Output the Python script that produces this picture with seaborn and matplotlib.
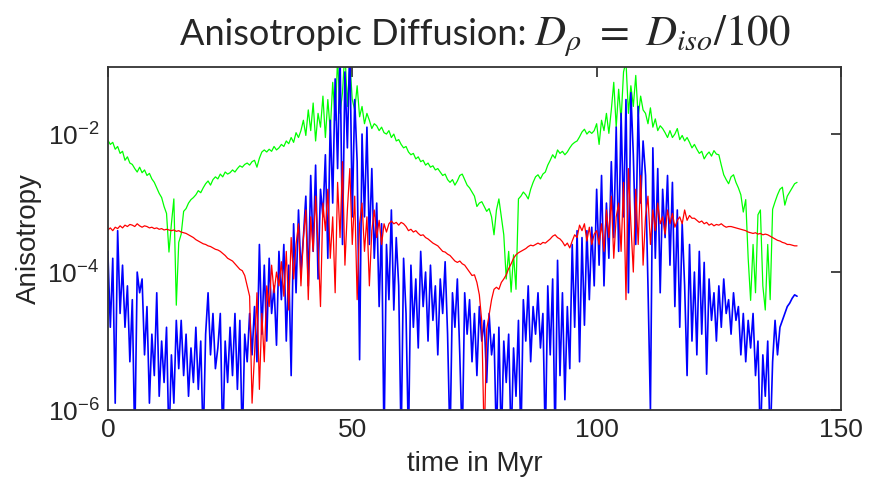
import numpy as np
import pandas as pd
import seaborn as sns
import matplotlib
matplotlib.use("Agg")
import matplotlib.pyplot as plt
from matplotlib.ticker import NullLocator, FuncFormatter

# time axis, every 0.5 Myr
time = np.arange(0, 141.5, 0.5)

# log10 of anisotropy
green_log = [
    -2.09, -2.15, -2.12, -2.22, -2.18, -2.28, -2.25, -2.38, -2.33, -2.42,
    -2.44, -2.50, -2.55, -2.48, -2.56, -2.52, -2.60, -2.57, -2.65, -2.70,
    -2.78, -2.86, -2.92, -3.05, -3.15, -3.71, -3.30, -2.94, -4.48, -3.57,
    -3.45, -3.12, -3.08, -3.00, -2.95, -2.92, -2.88, -2.82, -2.85, -2.78,
    -2.72, -2.68, -2.74, -2.66, -2.62, -2.65, -2.58, -2.62, -2.55, -2.58,
    -2.56, -2.52, -2.55, -2.50, -2.46, -2.48, -2.44, -2.42, -2.45, -2.40,
    -2.38, -2.48, -2.35, -2.26, -2.23, -2.26, -2.22, -2.25, -2.18, -2.23,
    -2.20, -2.15, -2.18, -2.10, -2.14, -2.05, -2.12, -1.98, -2.05, -1.95,
    -1.80, -2.02, -1.65, -1.95, -1.55, -2.10, -1.70, -1.90, -1.45, -2.05,
    -1.50, -1.95, -1.25, -1.80, -0.90, -1.70, -1.40, -0.80, -1.60, -0.95,
    -1.50, -1.65, -1.30, -1.75, -1.60, -1.85, -1.70, -1.80, -1.92, -1.85,
    -1.88, -1.95, -1.90, -1.98, -2.00, -1.95, -2.05, -2.00, -2.10, -2.08,
    -2.15, -2.20, -2.18, -2.26, -2.30, -2.28, -2.36, -2.33, -2.40, -2.38,
    -2.45, -2.42, -2.48, -2.46, -2.52, -2.50, -2.55, -2.60, -2.58, -2.66,
    -2.70, -2.66, -2.74, -2.68, -2.60, -2.58, -2.66, -2.74, -2.78, -2.84,
    -2.90, -3.05, -3.00, -2.98, -3.05, -3.12, -3.08, -3.20, -3.46, -3.10,
    -2.94, -3.20, -3.46, -4.10, -3.70, -4.29, -3.75, -4.25, -2.94, -2.90,
    -2.84, -2.88, -2.94, -2.80, -2.70, -2.62, -2.59, -2.65, -2.58, -2.55,
    -2.45, -2.38, -2.30, -2.35, -2.23, -2.28, -2.25, -2.30, -2.26, -2.20,
    -2.15, -2.12, -2.10, -2.04, -1.97, -1.93, -2.00, -1.96, -1.99, -1.95,
    -1.85, -2.15, -1.80, -1.95, -1.70, -1.99, -1.65, -1.25, -1.90, -1.35,
    -1.80, -1.10, -0.95, -1.70, -1.30, -1.60, -1.15, -1.75, -1.45, -1.65,
    -1.70, -1.85, -1.62, -1.90, -1.78, -1.95, -1.88, -1.92, -1.98, -2.05,
    -1.95, -2.05, -2.00, -1.92, -2.08, -2.02, -2.10, -2.05, -2.12, -2.20,
    -2.15, -2.22, -2.28, -2.25, -2.36, -2.30, -2.26, -2.32, -2.24, -2.29,
    -2.30, -2.45, -2.59, -2.66, -2.72, -2.62, -2.59, -2.70, -2.78, -2.88,
    -3.13, -2.95, -3.80, -4.41, -3.60, -4.30, -3.17, -3.10, -4.20, -4.55,
    -3.60, -4.40, -3.09, -2.98, -2.88, -2.80, -2.77, -3.03, -2.90, -2.84,
    -2.78, -2.72, -2.70,
]

red_log = [
    -3.39, -3.36, -3.40, -3.35, -3.37, -3.33, -3.36, -3.32, -3.34, -3.31,
    -3.32, -3.34, -3.30, -3.33, -3.35, -3.33, -3.34, -3.36, -3.35, -3.37,
    -3.36, -3.38, -3.37, -3.39, -3.38, -3.39, -3.40, -3.39, -3.41, -3.40,
    -3.42, -3.43, -3.44, -3.46, -3.48, -3.50, -3.53, -3.55, -3.57, -3.59,
    -3.60, -3.62, -3.63, -3.65, -3.67, -3.68, -3.70, -3.73, -3.76, -3.80,
    -3.82, -3.84, -3.88, -3.92, -3.96, -3.98, -4.05, -4.20, -4.35, -5.90,
    -5.20, -4.30, -5.70, -4.60, -5.30, -4.20, -4.50, -3.90, -4.30, -4.00,
    -4.20, -3.85, -4.35, -3.70, -4.55, -3.50, -4.10, -3.60, -3.30, -4.20,
    -3.50, -3.10, -4.40, -3.20, -3.70, -2.90, -3.60, -4.50, -3.00, -3.40,
    -2.80, -3.80, -3.20, -4.30, -2.70, -3.50, -2.40, -3.90, -3.10, -2.50,
    -3.60, -2.90, -4.40, -3.30, -3.00, -3.70, -3.20, -4.20, -3.40, -3.10,
    -3.50, -3.25, -3.60, -3.30, -3.42, -3.30, -3.26, -3.30, -3.28, -3.32,
    -3.28, -3.30, -3.34, -3.40, -3.38, -3.42, -3.40, -3.44, -3.47, -3.46,
    -3.50, -3.52, -3.55, -3.58, -3.60, -3.62, -3.66, -3.70, -3.71, -3.74,
    -3.76, -3.80, -3.84, -3.86, -3.84, -3.88, -3.90, -3.95, -4.00, -4.05,
    -4.04, -4.15, -4.33, -4.72, -6.50, -4.83, -4.62, -4.40, -4.25, -4.22,
    -4.25, -4.15, -4.10, -4.04, -3.95, -3.88, -3.80, -3.75, -3.72, -3.70,
    -3.68, -3.66, -3.63, -3.61, -3.62, -3.60, -3.58, -3.60, -3.57, -3.58,
    -3.55, -3.52, -3.48, -3.46, -3.50, -3.52, -3.56, -3.62, -3.58, -3.65,
    -3.55, -3.46, -3.50, -3.32, -3.40, -3.30, -3.55, -3.35, -3.60, -3.45,
    -3.40, -3.60, -3.30, -3.70, -3.10, -3.50, -2.90, -3.80, -3.20, -3.00,
    -3.70, -2.70, -4.40, -2.50, -3.30, -4.00, -2.80, -3.60, -2.60, -3.90,
    -3.20, -2.90, -3.60, -3.10, -3.40, -3.00, -3.30, -3.20, -3.45, -3.10,
    -3.30, -3.15, -3.35, -3.25, -3.20, -3.30, -3.10, -3.25, -3.18, -3.22,
    -3.22, -3.25, -3.28, -3.26, -3.30, -3.28, -3.32, -3.30, -3.33, -3.31,
    -3.32, -3.30, -3.33, -3.35, -3.34, -3.34, -3.35, -3.36, -3.37, -3.38,
    -3.39, -3.40, -3.42, -3.43, -3.44, -3.43, -3.45, -3.44, -3.46, -3.45,
    -3.46, -3.48, -3.50, -3.52, -3.54, -3.55, -3.57, -3.58, -3.60, -3.60,
    -3.61, -3.62, -3.62,
]

blue_log = [
    -3.70, -4.80, -3.80, -5.90, -3.40, -4.60, -3.90, -4.80, -4.20, -5.30,
    -4.40, -6.50, -4.00, -4.30, -4.10, -5.20, -4.50, -5.90, -4.90, -5.50,
    -4.30, -5.80, -5.00, -5.60, -4.80, -6.50, -5.20, -5.90, -4.70, -5.40,
    -4.70, -5.50, -4.90, -5.80, -5.10, -5.60, -4.80, -5.70, -5.00, -6.50,
    -4.90, -4.30, -5.20, -4.60, -5.40, -5.10, -4.60, -6.50, -5.00, -5.60,
    -4.80, -5.50, -4.60, -5.70, -4.70, -6.50, -4.90, -5.30, -4.60, -5.20,
    -4.50, -5.30, -3.60, -4.90, -3.90, -5.00, -3.80, -4.60, -4.20, -5.06,
    -3.70, -4.40, -3.60, -5.00, -3.90, -5.50, -3.30, -4.30, -3.10, -4.00,
    -3.50, -2.90, -4.20, -2.60, -3.70, -2.45, -4.10, -2.80, -3.20, -2.30,
    -3.80, -1.80, -3.00, -1.20, -2.50, -0.80, -3.60, -1.10, -2.20, -0.70,
    -3.20, -1.50, -2.40, -5.27, -2.00, -3.20, -1.90, -3.60, -2.50, -3.80,
    -3.00, -4.50, -3.30, -6.50, -3.60, -4.40, -3.10, -4.55, -3.50, -4.20,
    -6.50, -3.80, -4.60, -6.50, -3.90, -4.80, -4.10, -5.10, -3.70, -4.50,
    -4.00, -5.00, -3.90, -4.70, -4.20, -5.20, -4.10, -4.60, -3.85, -4.90,
    -6.50, -4.30, -4.80, -4.10, -5.20, -6.50, -4.30, -4.90, -4.40, -5.30,
    -4.60, -5.50, -4.50, -5.00, -4.70, -5.60, -4.60, -5.20, -4.90, -6.50,
    -4.80, -6.50, -5.00, -5.60, -4.90, -6.50, -5.10, -5.80, -4.70, -6.50,
    -4.40, -5.00, -4.20, -5.30, -4.50, -4.90, -4.30, -5.10, -4.60, -6.50,
    -4.20, -5.20, -4.10, -6.50, -3.83, -5.50, -4.30, -5.85, -4.50, -5.40,
    -3.60, -4.80, -3.40, -5.30, -3.50, -4.77, -3.40, -4.40, -3.35, -4.20,
    -2.80, -3.90, -2.60, -4.20, -3.00, -3.80, -2.40, -3.50, -1.90, -3.70,
    -1.70, -3.20, -1.50, -4.30, -1.40, -2.30, -3.60, -1.60, -3.00, -2.10,
    -2.60, -4.20, -6.00, -2.20, -3.80, -2.50, -4.30, -2.80, -3.50, -2.60,
    -3.90, -2.70, -4.50, -3.10, -4.80, -3.30, -4.20, -5.50, -3.60, -5.00,
    -4.00, -5.20, -3.70, -4.90, -3.86, -5.48, -4.10, -4.70, -4.30, -5.00,
    -4.20, -4.80, -4.10, -4.60, -4.40, -4.90, -4.30, -4.70, -4.50, -5.20,
    -4.60, -5.30, -4.70, -5.10, -4.60, -5.50, -5.00, -6.50, -5.20, -5.80,
    -5.00, -6.50, -5.30, -4.70, -5.20, -4.80, -4.70, -4.60, -4.50, -4.45,
    -4.38, -4.33, -4.35,
]

x_ticks = [0, 50, 100, 150]
y_ticks = [1e-6, 1e-4, 1e-2]

sns.set_theme(style="white")
plt.rcParams["font.family"] = ["Liberation Sans", "DejaVu Sans"]
plt.rcParams["mathtext.default"] = "it"

df = pd.DataFrame({
    "time": time,
    "green": 10 ** np.array(green_log),
    "red": 10 ** np.array(red_log),
    "blue": 10 ** np.array(blue_log),
})

fig = plt.figure(figsize=(8.77, 4.83), dpi=100)
ax = fig.add_axes([0.123, 0.151, 0.836, 0.710])

# green first, red on top
sns.lineplot(data=df, x="time", y="green", color="#00ff00", linewidth=0.9,
             estimator=None, ax=ax)
sns.lineplot(data=df, x="time", y="blue", color="#0000ff", linewidth=1.2,
             estimator=None, ax=ax)
sns.lineplot(data=df, x="time", y="red", color="#ff0000", linewidth=0.9,
             estimator=None, ax=ax)

ax.set_yscale("log")
ax.set_xlim(0, 150)
ax.set_ylim(1e-6, 10 ** -1.03)
ax.set_xticks(x_ticks)
ax.set_yticks(y_ticks)
ax.yaxis.set_minor_locator(NullLocator())
ax.yaxis.set_major_formatter(
    FuncFormatter(lambda v, p: r"$\mathregular{10^{%d}}$" % round(np.log10(v))))

txt = "#262626"
ax.tick_params(direction="in", top=True, right=True, length=7, width=1.2,
               colors=txt, labelsize=19, pad=6)
for s in ax.spines.values():
    s.set_color("#333333")
    s.set_linewidth(1.3)

ax.set_xlabel("time in Myr", fontsize=20, color=txt, labelpad=6)
ax.set_ylabel("Anisotropy", fontsize=20, color=txt, labelpad=4)

fig.text(0.205, 0.907, "Anisotropic Diffusion:", fontsize=26, family="Lato",
         color="#262626", ha="left", va="baseline")
fig.text(0.609, 0.907, r"$D_{\rho}\ =\ D_{iso}/100$", fontsize=31,
         math_fontfamily="stix", color="#262626", ha="left", va="baseline")

fig.savefig("out.png", dpi=100)
